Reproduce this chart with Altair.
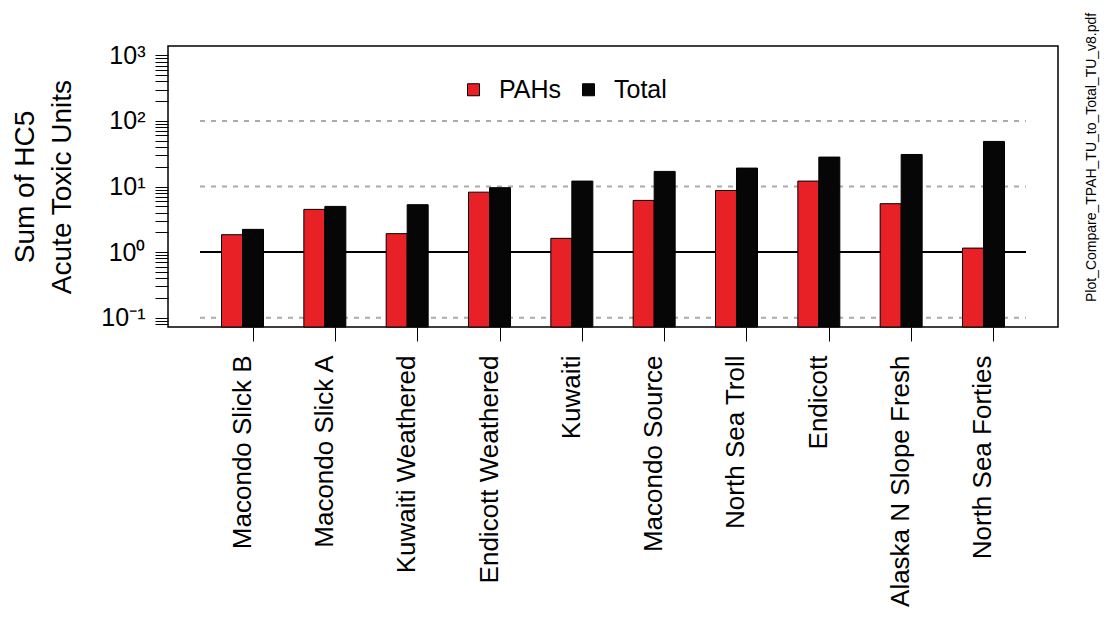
import altair as alt
import pandas as pd

oils = ["Macondo Slick B", "Macondo Slick A", "Kuwaiti Weathered", "Endicott Weathered",
        "Kuwaiti", "Macondo Source", "North Sea Troll", "Endicott",
        "Alaska N Slope Fresh", "North Sea Forties"]
pahs = [1.84, 4.48, 1.91, 8.2, 1.62, 6.14, 8.7, 12.1, 5.47, 1.15]
total = [2.22, 4.97, 5.28, 9.6, 12.1, 17.0, 19.1, 28.1, 30.8, 48.7]
series = ["PAHs", "Total"]
colors = ["#E82127", "#060606"]
dashed_levels = [0.1, 10, 100]
solid_levels = [1]
file_label = "Plot_Compare_TPAH_TU_to_Total_TU_v8.pdf"

rows = []
for o, p, t in zip(oils, pahs, total):
    rows.append({"oil": o, "series": "PAHs", "value": p})
    rows.append({"oil": o, "series": "Total", "value": t})
df = pd.DataFrame(rows)

YMIN, YMAX = 0.072, 1390
yscale = alt.Scale(type="log", domain=[YMIN, YMAX], nice=False)

tick_vals = []
for e in range(-2, 4):
    for k in range(1, 10):
        v = round(k * 10 ** e, 10)
        if YMIN <= v <= YMAX:
            tick_vals.append(v)

label_expr = ("datum.value==1000?'10³':datum.value==100?'10²':datum.value==10?'10¹':"
              "datum.value==1?'10⁰':datum.value==0.1?'10⁻¹':''")

FONT = "Liberation Sans"

dashed = alt.Chart(pd.DataFrame({"v": dashed_levels})).mark_rule(
    color="#ababab", strokeWidth=2, strokeDash=[5, 6]
).encode(
    y=alt.Y("v:Q", scale=yscale),
    x=alt.value(32), x2=alt.value(858),
)

solid = alt.Chart(pd.DataFrame({"v": solid_levels})).mark_rule(
    color="black", strokeWidth=2
).encode(
    y=alt.Y("v:Q", scale=yscale),
    x=alt.value(32), x2=alt.value(858),
)

bars = alt.Chart(df).mark_bar(stroke="black", strokeWidth=1).encode(
    x=alt.X("oil:N", sort=oils,
            scale=alt.Scale(paddingInner=0.49, paddingOuter=0.65),
            axis=alt.Axis(title=None, labelAngle=-90, labelFontSize=26, labelFont=FONT,
                          labelColor="black", tickSize=14, tickColor="black", tickWidth=1,
                          labelPadding=14, domain=False, bandPosition=0.75,
                          labelLimit=400)),
    xOffset=alt.XOffset("series:N", sort=series, scale=alt.Scale(paddingInner=0, paddingOuter=0)),
    y=alt.Y("value:Q", scale=yscale,
            axis=alt.Axis(title=["Sum of HC5", "Acute Toxic Units"], titleFontSize=28,
                          titleFont=FONT, titleFontWeight="normal", titleColor="black",
                          titleLineHeight=37, titlePadding=24,
                          values=tick_vals, labelExpr=label_expr, labelOverlap=False,
                          labelFontSize=25, labelFont=FONT, labelColor="black",
                          labelPadding=10, tickSize=13, tickColor="black", tickWidth=1,
                          domain=False, grid=False)),
    y2=alt.datum(YMIN),
    color=alt.Color("series:N", sort=series,
                    scale=alt.Scale(domain=series, range=colors),
                    legend=alt.Legend(title=None, orient="none", legendX=293, legendY=31,
                                      direction="horizontal", symbolType="square",
                                      symbolSize=144, symbolStrokeColor="black",
                                      symbolStrokeWidth=1, labelFontSize=25, labelFont=FONT,
                                      labelColor="black", labelOffset=13, columnPadding=14,
                                      padding=0)),
)

fname = alt.Chart(pd.DataFrame({"t": [file_label]})).mark_text(
    angle=270, align="left", baseline="middle", fontSize=14, font=FONT, color="black"
).encode(text="t:N", x=alt.value(924), y=alt.value(256))

chart = alt.layer(dashed, solid, bars, fname).properties(
    width=890, height=281,
    autosize=alt.AutoSizeParams(type="none"),
    padding={"left": 160, "top": 38, "right": 44, "bottom": 284},
    background="white",
).configure_view(stroke="black", strokeWidth=1.5)

chart.save("out.html", embed_options={"renderer": "svg", "actions": False})
